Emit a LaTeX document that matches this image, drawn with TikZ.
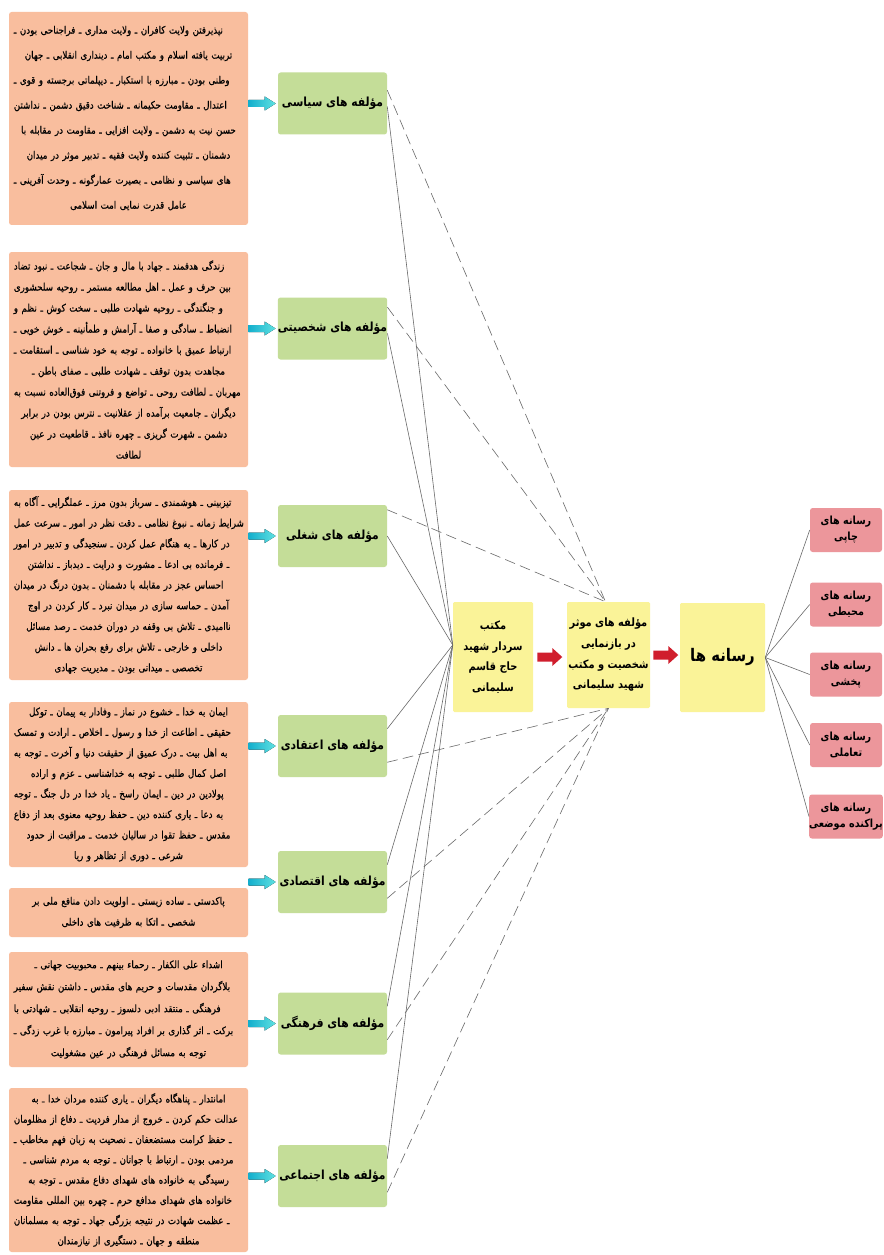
\documentclass[tikz,border=0pt]{standalone}
\usepackage{fontspec}
\usetikzlibrary{calc}
\TeXXeTstate=1
\newfontfamily\fa[Script=Arabic, FakeStretch=0.86]{DejaVu Sans}
\newfontfamily\fab[Script=Arabic, FakeStretch=0.84, FakeBold=0.35]{DejaVu Sans}
\newlength\linew
\setlength\linew{172pt}
\newcommand\jl[1]{\makebox[\linew][s]{\beginR #1\endR}}
\newcommand\cl[1]{\mbox{\beginR #1\endR}}
\newcommand\rl[1]{\mbox{\beginR #1\endR}}
\definecolor{orangeF}{RGB}{249,190,158}
\definecolor{greenF}{RGB}{196,221,152}
\definecolor{yellowF}{RGB}{250,243,152}
\definecolor{pinkF}{RGB}{236,150,155}
\definecolor{cyanL}{RGB}{20,175,205}
\definecolor{cyanR}{RGB}{95,225,225}
\definecolor{redF}{RGB}{208,30,45}
\definecolor{lineG}{RGB}{105,105,105}
\tikzset{
  obox/.style={fill=orangeF, rounded corners=2pt, inner sep=0pt, minimum width=179.25pt,
    text width=176pt, align=center, font=\fab\fontsize{7.8}{#1}\selectfont},
  gbox/.style={fill=greenF, rounded corners=2pt, inner sep=0pt, minimum width=81.75pt,
    minimum height=46.5pt, font=\fa\bfseries\fontsize{9.4}{12}\selectfont},
  ybox/.style={fill=yellowF, rounded corners=1pt, inner sep=0pt, align=center,
    font=\fa\bfseries\fontsize{8.6}{15.5}\selectfont},
  pbox/.style={fill=pinkF, rounded corners=2pt, inner sep=0pt, minimum width=54pt,
    minimum height=33pt, align=center, font=\fa\bfseries\fontsize{8.4}{12}\selectfont},
  cyarr/.style={left color=cyanL, right color=cyanR, draw=none},
  redarr/.style={fill=redF, draw=none},
  solidln/.style={draw=lineG, line width=0.45pt},
  dashln/.style={draw=lineG, line width=0.45pt, dash pattern=on 8pt off 4pt},
}
\begin{document}
\begin{tikzpicture}[x=0.75pt,y=-0.75pt]
\useasboundingbox (0,0) rectangle (884,1255);
\fill[white] (0,0) rectangle (884,1255);

% orange description boxes
\node[obox=18.75pt, minimum height=159.75pt] (o1) at (128.5,118.5) {%
\jl{نپذیرفتن ولایت کافران ـ ولایت مداری ـ فراجناحی بودن ـ}\\
\cl{تربیت یافته اسلام و مکتب امام ـ دینداری انقلابی ـ جهان}\\
\jl{وطنی بودن ـ مبارزه با استکبار ـ دیپلماتی برجسته و قوی ـ}\\
\jl{اعتدال ـ مقاومت حکیمانه ـ شناخت دقیق دشمن ـ نداشتن}\\
\cl{حسن نیت به دشمن ـ ولایت افزایی ـ مقاومت در مقابله با}\\
\cl{دشمنان ـ تثبیت کننده ولایت فقیه ـ تدبیر موثر در میدان}\\
\jl{های سیاسی و نظامی ـ بصیرت عمارگونه ـ وحدت آفرینی ـ}\\
\cl{عامل قدرت نمایی امت اسلامی}};

\node[obox=15.75pt, minimum height=161.25pt] (o2) at (128.5,359.5) {%
\jl{زندگی هدفمند ـ جهاد با مال و جان ـ شجاعت ـ نبود تضاد}\\
\jl{بین حرف و عمل ـ اهل مطالعه مستمر ـ روحیه سلحشوری}\\
\jl{و جنگندگی ـ روحیه شهادت طلبی ـ سخت کوش ـ نظم و}\\
\jl{انضباط ـ سادگی و صفا ـ آرامش و طمأنینه ـ خوش خویی ـ}\\
\jl{ارتباط عمیق با خانواده ـ توجه به خود شناسی ـ استقامت ـ}\\
\cl{مجاهدت بدون توقف ـ شهادت طلبی ـ صفای باطن ـ}\\
\jl{مهربان ـ لطافت روحی ـ تواضع و فروتنی فوق‌العاده نسبت به}\\
\cl{دیگران ـ جامعیت برآمده از عقلانیت ـ نترس بودن در برابر}\\
\cl{دشمن ـ شهرت گریزی ـ چهره نافذ ـ قاطعیت در عین}\\
\cl{لطافت}};

\node[obox=15.5pt, minimum height=142.5pt] (o3) at (128.5,585) {%
\jl{تیزبینی ـ هوشمندی ـ سرباز بدون مرز ـ عملگرایی ـ آگاه به}\\
\jl{شرایط زمانه ـ نبوغ نظامی ـ دقت نظر در امور ـ سرعت عمل}\\
\jl{در کارها ـ به هنگام عمل کردن ـ سنجیدگی و تدبیر در امور}\\
\cl{ـ فرمانده بی ادعا ـ مشورت و درایت ـ دیدباز ـ نداشتن}\\
\jl{احساس عجز در مقابله با دشمنان ـ بدون درنگ در میدان}\\
\cl{آمدن ـ حماسه سازی در میدان نبرد ـ کار کردن در اوج}\\
\cl{ناامیدی ـ تلاش بی وقفه در دوران خدمت ـ رصد مسائل}\\
\cl{داخلی و خارجی ـ تلاش برای رفع بحران ها ـ دانش}\\
\cl{تخصصی ـ میدانی بودن ـ مدیریت جهادی}};

\node[obox=15.4pt, minimum height=123.75pt] (o4) at (128.5,784.5) {%
\cl{ایمان به خدا ـ خشوع در نماز ـ وفادار به پیمان ـ توکل}\\
\jl{حقیقی ـ اطاعت از خدا و رسول ـ اخلاص ـ ارادت و تمسک}\\
\jl{به اهل بیت ـ درک عمیق از حقیقت دنیا و آخرت ـ توجه به}\\
\cl{اصل کمال طلبی ـ توجه به خداشناسی ـ عزم و اراده}\\
\jl{پولادین در دین ـ ایمان راسخ ـ یاد خدا در دل جنگ ـ توجه}\\
\jl{به دعا ـ یاری کننده دین ـ حفظ روحیه معنوی بعد از دفاع}\\
\cl{مقدس ـ حفظ تقوا در سالیان خدمت ـ مراقبت از حدود}\\
\cl{شرعی ـ دوری از تظاهر و ریا}};

\node[obox=15.75pt, minimum height=36.75pt] (o5) at (128.5,912.5) {%
\cl{پاکدستی ـ ساده زیستی ـ اولویت دادن منافع ملی بر}\\
\cl{شخصی ـ اتکا به ظرفیت های داخلی}};

\node[obox=16.5pt, minimum height=86.25pt] (o6) at (128.5,1009.5) {%
\cl{اشداء علی الکفار ـ رحماء بینهم ـ محبوبیت جهانی ـ}\\
\jl{بلاگردان مقدسات و حریم های مقدس ـ داشتن نقش سفیر}\\
\jl{فرهنگی ـ منتقد ادبی دلسوز ـ روحیه انقلابی ـ شهادتی با}\\
\jl{برکت ـ اثر گذاری بر افراد پیرامون ـ مبارزه با غرب زدگی ـ}\\
\cl{توجه به مسائل فرهنگی در عین مشغولیت}};

\node[obox=15.2pt, minimum height=123pt] (o7) at (128.5,1170) {%
\cl{امانتدار ـ پناهگاه دیگران ـ یاری کننده مردان خدا ـ به}\\
\jl{عدالت حکم کردن ـ خروج از مدار فردیت ـ دفاع از مظلومان}\\
\jl{ـ حفظ کرامت مستضعفان ـ نصحیت به زبان فهم مخاطب ـ}\\
\cl{مردمی بودن ـ ارتباط با جوانان ـ توجه به مردم شناسی ـ}\\
\cl{رسیدگی به خانواده های شهدای دفاع مقدس ـ توجه به}\\
\jl{خانواده های شهدای مدافع حرم ـ چهره بین المللی مقاومت}\\
\jl{ـ عظمت شهادت در نتیجه بزرگی جهاد ـ توجه به مسلمانان}\\
\cl{منطقه و جهان ـ دستگیری از نیازمندان}};

% green category boxes
\node[gbox] (g1) at (332.5,103.5) {\rl{مؤلفه های سیاسی}};
\node[gbox] (g2) at (332.5,328.5) {\rl{مؤلفه های شخصیتی}};
\node[gbox] (g3) at (332.5,536) {\rl{مؤلفه های شغلی}};
\node[gbox] (g4) at (332.5,746) {\rl{مؤلفه های اعتقادی}};
\node[gbox] (g5) at (332.5,882) {\rl{مؤلفه های اقتصادی}};
\node[gbox] (g6) at (332.5,1023.5) {\rl{مؤلفه های فرهنگی}};
\node[gbox] (g7) at (332.5,1176) {\rl{مؤلفه های اجتماعی}};

% cyan block arrows
\foreach \i in {1,...,7}{
  \fill[cyarr] ($(g\i.west)+(-29,-3.5)$) -- ++(16,0) -- ++(0,-3.5) -- ++(11,7)
    -- ++(-11,7) -- ++(0,-3.5) -- ++(-16,0) -- cycle;
}

% yellow boxes
\node[ybox, minimum width=60pt, minimum height=82.5pt] (y1) at (493,657)
  {\rl{مکتب}\\\rl{سردار شهید}\\\rl{حاج قاسم}\\\rl{سلیمانی}};
\node[ybox, minimum width=62.25pt, minimum height=79.5pt] (y2) at (608.5,655)
  {\rl{مؤلفه های موثر}\\\rl{در بازنمایی}\\\rl{شخصیت و مکتب}\\\rl{شهید سلیمانی}};
\node[ybox, minimum width=63.75pt, minimum height=81.75pt,
  font=\fa\bfseries\fontsize{13}{16}\selectfont] (y3) at (722.5,657.5) {\rl{رسانه ها}};

% red block arrows
\fill[redarr] ($(y1.east)+(4,-4.5)$) -- ++(15,0) -- ++(0,-4.5) -- ++(10,9)
  -- ++(-10,9) -- ++(0,-4.5) -- ++(-15,0) -- cycle;
\fill[redarr] ($(y2.east)+(3,-4.5)$) -- ++(15,0) -- ++(0,-4.5) -- ++(10,9)
  -- ++(-10,9) -- ++(0,-4.5) -- ++(-15,0) -- cycle;

% pink media boxes
\node[pbox] (p1) at (846,530) {\rl{رسانه های}\\\rl{چاپی}};
\node[pbox] (p2) at (846,604.5) {\rl{رسانه های}\\\rl{محیطی}};
\node[pbox] (p3) at (846,674.5) {\rl{رسانه های}\\\rl{پخشی}};
\node[pbox] (p4) at (846,745) {\rl{رسانه های}\\\rl{تعاملی}};
\node[pbox] (p5) at (846,816.5) {\rl{رسانه های}\\\rl{پراکنده موضعی}};

% connector targets
\coordinate (y1in) at ($(y1.west)+(0,-12)$);
\coordinate (y2top) at ($(y2.north)+(-3,0)$);
\coordinate (y2bot) at (y2.south);

% top three categories
\draw[dashln] ($(g1.north east)+(0,18)$) -- (y2top);
\draw[solidln] ($(g1.east)+(0,3)$) -- (y1in);
\draw[dashln] ($(g2.north east)+(0,10)$) -- (y2top);
\draw[solidln] ($(g2.east)+(0,5)$) -- (y1in);
\draw[dashln] ($(g3.north east)+(0,5)$) -- (y2top);
\draw[solidln] (g3.east) -- (y1in);
% bottom four categories
\foreach \i in {4,...,7}{
  \draw[solidln] ($(g\i.north east)+(0,14)$) -- (y1in);
  \draw[dashln] ($(g\i.south east)+(0,-15)$) -- (y2bot);
}

% media fan
\foreach \i in {1,...,5}{
  \draw[solidln] (y3.east) -- (p\i.west);
}
\end{tikzpicture}
\end{document}
